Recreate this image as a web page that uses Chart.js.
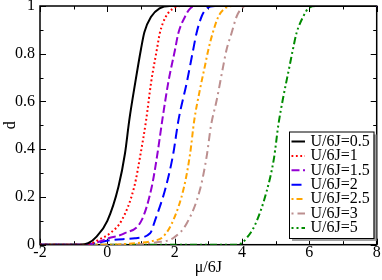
<!DOCTYPE html>
<html>
<head>
<meta charset="utf-8">
<style>
  html, body { margin: 0; padding: 0; background: #fff; }
  #wrap { width: 382px; height: 280px; }
</style>
</head>
<body>
<div id="wrap"><canvas id="myChart" width="382" height="280"></canvas></div>
<script src="https://cdn.jsdelivr.net/npm/chart.js@4.4.0/dist/chart.umd.min.js"></script>
<script>
const SERIF = "'Liberation Serif', 'Times New Roman', serif"

// axis ticks
const xTicks = [-2, 0, 2, 4, 6, 8]
const yTicks = [0, 0.2, 0.4, 0.6, 0.8, 1]

// series labels
const seriesLabels = ["U/6J=0.5", "U/6J=1", "U/6J=1.5", "U/6J=2", "U/6J=2.5", "U/6J=3", "U/6J=5"]

// d(mu), one pair of arrays per curve
const muU05 = [-2, -0.8, -0.57, -0.32, 0, 0.33, 0.525, 0.65, 0.83, 1.0, 1.1, 1.3, 1.55, 1.85, 8]
const dU05 = [0, 0, 0.006, 0.034, 0.10, 0.243, 0.383, 0.52, 0.68, 0.82, 0.89, 0.955, 0.99, 1, 1]

const muU1 = [-2, -0.6, -0.27, 0.08, 0.43, 0.8, 0.99, 1.15, 1.30, 1.47, 1.56, 1.74, 1.96, 2.2, 8]
const dU1 = [0, 0, 0.02, 0.048, 0.103, 0.243, 0.383, 0.52, 0.68, 0.817, 0.887, 0.956, 0.99, 1, 1]

const muU15 = [-2, -0.6, -0.3, 0.03, 0.52, 1.02, 1.32, 1.49, 1.63, 1.81, 2.01, 2.11, 2.31, 2.46, 2.7, 8]
const dU15 = [0, 0, 0.01, 0.027, 0.048, 0.103, 0.243, 0.383, 0.52, 0.68, 0.817, 0.887, 0.956, 0.99, 1, 1]

const muU2 = [-2, -0.7, 0.13, 0.82, 1.27, 1.42, 1.74, 1.96, 2.11, 2.36, 2.55, 2.65, 2.80, 2.95, 3.2, 8]
const dU2 = [0, 0, 0.02, 0.027, 0.048, 0.103, 0.243, 0.383, 0.52, 0.68, 0.817, 0.887, 0.956, 0.99, 1, 1]

const muU25 = [-2, 0, 0.87, 1.32, 1.66, 1.96, 2.28, 2.46, 2.58, 2.75, 2.9, 3.0, 3.13, 3.30, 3.49, 3.7, 8]
const dU25 = [0, 0, 0.007, 0.015, 0.034, 0.103, 0.243, 0.383, 0.52, 0.65, 0.75, 0.817, 0.887, 0.956, 0.99, 1, 1]

const muU3 = [-2, 0.5, 1.47, 1.96, 2.36, 2.75, 2.95, 3.08, 3.25, 3.44, 3.54, 3.69, 3.84, 3.99, 4.2, 8]
const dU3 = [0, 0, 0.01, 0.028, 0.09, 0.23, 0.37, 0.5, 0.607, 0.747, 0.817, 0.887, 0.956, 0.99, 1, 1]

const muU5 = [-2, 3.85, 4.0, 4.14, 4.39, 4.73, 4.95, 5.08, 5.21, 5.41, 5.51, 5.62, 5.82, 5.97, 6.2, 8]
const dU5 = [0, 0, 0.008, 0.028, 0.084, 0.223, 0.363, 0.503, 0.607, 0.747, 0.817, 0.887, 0.956, 0.99, 1, 1]

const curves = [
  [muU05, dU05, "#000000", []],
  [muU1, dU1, "#ff0000", [1.8, 2.6]],
  [muU15, dU15, "#9400d3", [8, 3.5]],
  [muU2, dU2, "#0000ff", [10, 5]],
  [muU25, dU25, "#ffa500", [2, 3, 6, 3]],
  [muU3, dU3, "#bc8f8f", [2, 4, 8, 4]],
  [muU5, dU5, "#008b00", [2, 3, 2, 3, 7, 3]],
]

const datasets = curves.map(([mu, d, color, dash], i) => ({
  label: seriesLabels[i],
  data: mu.map((m, k) => ({ x: m, y: d[k] })),
  borderColor: color,
  borderDash: dash,
  borderWidth: 2,
  borderCapStyle: 'butt',
  pointRadius: 0,
  fill: false,
  cubicInterpolationMode: 'monotone',
}))

// frame with inward major/minor ticks on all four sides
const frameTicks = {
  id: 'frameTicks',
  beforeDatasetsDraw(chart) {
    const { ctx, chartArea: a, scales: { x, y } } = chart
    ctx.save()
    ctx.strokeStyle = '#000'
    ctx.lineWidth = 1
    ctx.beginPath()
    const xMarks = []
    xTicks.forEach((v, i) => {
      xMarks.push([v, 6])
      if (i < xTicks.length - 1) xMarks.push([(v + xTicks[i + 1]) / 2, 3.5])
    })
    xMarks.forEach(([v, len]) => {
      const px = Math.round(x.getPixelForValue(v)) + 0.5
      ctx.moveTo(px, a.bottom); ctx.lineTo(px, a.bottom - len)
      ctx.moveTo(px, a.top); ctx.lineTo(px, a.top + len)
    })
    const yMarks = []
    yTicks.forEach((v, i) => {
      yMarks.push([v, 6])
      if (i < yTicks.length - 1) yMarks.push([(v + yTicks[i + 1]) / 2, 3.5])
    })
    yMarks.forEach(([v, len]) => {
      const py = Math.round(y.getPixelForValue(v)) + 0.5
      ctx.moveTo(a.left, py); ctx.lineTo(a.left + len, py)
      ctx.moveTo(a.right, py); ctx.lineTo(a.right - len, py)
    })
    ctx.stroke()
    ctx.lineWidth = 1.5
    ctx.strokeRect(a.left, a.top, a.right - a.left, a.bottom - a.top)
    ctx.restore()
  }
}

// boxed legend with drop shadow inside the plot
const boxLegend = {
  id: 'boxLegend',
  afterDraw(chart) {
    const ctx = chart.ctx
    const L = 289, T = 131.5, W = 84.5, H = 106.5
    ctx.save()
    ctx.fillStyle = '#a0a0a0'
    ctx.fillRect(L + 3, T + 3, W, H)
    ctx.fillStyle = '#fff'
    ctx.fillRect(L, T, W, H)
    ctx.strokeStyle = '#000'
    ctx.lineWidth = 1
    ctx.strokeRect(L + 0.5, T + 0.5, W, H)
    ctx.font = '16px ' + SERIF
    ctx.textBaseline = 'middle'
    ctx.textAlign = 'left'
    chart.data.datasets.forEach((ds, i) => {
      const cy = T + 10 + i * 14.4
      ctx.save()
      ctx.beginPath()
      ctx.rect(L + 2, cy - 3, 14, 6)
      ctx.clip()
      ctx.strokeStyle = ds.borderColor
      ctx.lineWidth = 2
      ctx.setLineDash(ds.borderDash)
      ctx.beginPath()
      ctx.moveTo(L + 2.5, cy)
      ctx.lineTo(L + 16, cy)
      ctx.stroke()
      ctx.restore()
      ctx.fillStyle = '#000'
      ctx.fillText(ds.label, L + 21.5, cy)
    })
    ctx.restore()
  }
}

const ctx = document.getElementById('myChart').getContext('2d')

const myChart = new Chart(ctx, {
  type: 'line',
  data: { datasets },
  plugins: [frameTicks, boxLegend],
  options: {
    responsive: false,
    animation: false,
    events: [],
    layout: { padding: { top: 6, right: 5.3, left: 0, bottom: 0 } },
    plugins: {
      legend: { display: false },
      tooltip: { enabled: false },
    },
    scales: {
      x: {
        type: 'linear',
        min: -2,
        max: 8,
        afterBuildTicks: s => { s.ticks = xTicks.map(v => ({ value: v })) },
        afterFit: s => { s.height = 35.3; s.paddingLeft = 0; s.paddingRight = 0 },
        grid: { display: false, drawTicks: false },
        border: { display: false },
        ticks: {
          color: '#000',
          padding: 0,
          maxRotation: 0,
          autoSkip: false,
          callback: v => String(Math.round(v * 10) / 10),
          font: { family: SERIF, size: 16, lineHeight: 1 },
        },
        title: {
          display: true,
          text: 'μ/6J',
          color: '#000',
          padding: { top: 0, bottom: 2.4 },
          font: { family: SERIF, size: 16 },
        },
      },
      y: {
        type: 'linear',
        min: 0,
        max: 1,
        afterBuildTicks: s => { s.ticks = yTicks.map(v => ({ value: v })) },
        afterFit: s => { s.width = 40; s.paddingTop = 0; s.paddingBottom = 0 },
        grid: { display: false, drawTicks: false },
        border: { display: false },
        ticks: {
          color: '#000',
          padding: 5,
          autoSkip: false,
          callback: v => String(Math.round(v * 10) / 10),
          font: { family: SERIF, size: 16, lineHeight: 1 },
        },
        title: {
          display: true,
          text: 'd',
          color: '#000',
          padding: { top: 1.4, bottom: 0 },
          font: { family: SERIF, size: 16 },
        },
      },
    },
  },
})
</script>
</body>
</html>
